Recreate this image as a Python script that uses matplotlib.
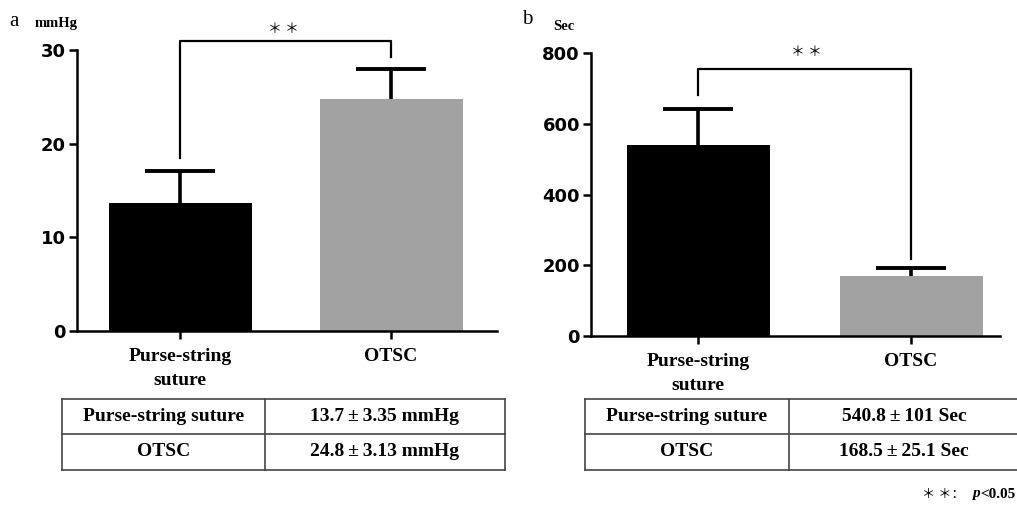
import matplotlib
matplotlib.use("Agg")
import matplotlib.pyplot as plt
from matplotlib.lines import Line2D

# ---- data ----
categories = ["Purse-string\nsuture", "OTSC"]
pressure_mean = [13.7, 24.8]
pressure_sd = [3.35, 3.13]
time_mean = [540.8, 168.5]
time_sd = [101, 25.1]
pressure_ticks = [0, 10, 20, 30]
time_ticks = [0, 200, 400, 600, 800]
table_a = [["Purse-string suture", "13.7\u2009\u00b1\u20093.35 mmHg"], ["OTSC", "24.8\u2009\u00b1\u20093.13 mmHg"]]
table_b = [["Purse-string suture", "540.8\u2009\u00b1\u2009101 Sec"], ["OTSC", "168.5\u2009\u00b1\u200925.1 Sec"]]
bar_colors = ["#000000", "#a2a2a2"]

W, H = 1017, 507
fig = plt.figure(figsize=(W / 100, H / 100), dpi=100)

def fx(px):
    return px / W

def fy(py):
    return 1 - py / H

serif = "Liberation Serif"
cjk = ["Noto Sans CJK SC", "DejaVu Sans"]

def panel(left, right, y0px, ytop_px, centers_px, ymax, means, sds, ticks,
          bracket_y, bracket_left_end, bracket_right_end, star_x_px, star_y_px):
    ax = fig.add_axes([fx(left), fy(y0px), fx(right) - fx(left), fy(ytop_px) - fy(y0px)])
    unit = centers_px[1] - centers_px[0]
    xl = -(centers_px[0] - left) / unit
    xr = 1 + (right - centers_px[1]) / unit
    xs = [0, 1]
    ax.bar(xs, means, width=143 / unit, color=bar_colors, zorder=2)
    cap_half = 35 / unit
    for x, m, s in zip(xs, means, sds):
        ax.plot([x, x], [m, m + s], color="black", lw=2.6, zorder=3, solid_capstyle="butt")
        ax.plot([x - cap_half, x + cap_half], [m + s, m + s], color="black", lw=2.8,
                zorder=3, solid_capstyle="butt", clip_on=False)
    ax.set_xlim(xl, xr)
    ax.set_ylim(0, ymax)
    ax.set_yticks(ticks)
    ax.set_yticklabels([str(t) for t in ticks], fontfamily="DejaVu Sans",
                       fontweight="bold", fontsize=13)
    ax.set_xticks(xs)
    ax.set_xticklabels(categories, fontfamily=serif, fontweight="bold", fontsize=14,
                       linespacing=1.6)
    for s in ["top", "right"]:
        ax.spines[s].set_visible(False)
    for s in ["left", "bottom"]:
        ax.spines[s].set_linewidth(1.8)
    ax.tick_params(axis="both", width=1.8, length=6, direction="out", pad=2)
    ax.tick_params(axis="x", pad=6)
    # significance bracket
    ax.plot([0, 0, 1, 1], [bracket_left_end, bracket_y, bracket_y, bracket_right_end],
            color="black", lw=1.6, clip_on=False, zorder=4)
    fig.text(fx(star_x_px), fy(star_y_px), "\uff0a \uff0a", ha="center", va="center",
             fontfamily=cjk, fontsize=10)
    return ax

panel(77, 497, 331, 50, [180, 391], 30, pressure_mean, pressure_sd, pressure_ticks,
      31.0, 18.5, 29.3, 283, 29)
panel(591, 1000, 336, 53, [698, 911], 800, time_mean, time_sd, time_ticks,
      755, 682, 218, 806, 52)

# panel letters and units
fig.text(fx(9), fy(21), "a", fontfamily=serif, fontsize=15, va="center")
fig.text(fx(35), fy(24), "mmHg", fontfamily=serif, fontweight="bold", fontsize=10.5, va="center")
fig.text(fx(522), fy(19), "b", fontfamily=serif, fontsize=15, va="center")
fig.text(fx(553), fy(27), "Sec", fontfamily=serif, fontweight="bold", fontsize=10.5, va="center")

# tables
def draw_table(x0, x1, xdiv, rows, right_border=True, val_center=None):
    ys = [399, 434, 470]
    col = "#444444"
    for y in ys:
        fig.add_artist(Line2D([fx(x0), fx(x1)], [fy(y), fy(y)], color=col, lw=1.2))
    xs_v = [x0, xdiv] + ([x1] if right_border else [])
    for x in xs_v:
        fig.add_artist(Line2D([fx(x), fx(x)], [fy(ys[0]), fy(ys[-1])], color=col, lw=1.2))
    vc = val_center if val_center is not None else (xdiv + x1) / 2
    for i, (c1, c2) in enumerate(rows):
        yc = (ys[i] + ys[i + 1]) / 2
        fig.text(fx((x0 + xdiv) / 2), fy(yc), c1, ha="center", va="center",
                 fontfamily=serif, fontweight="bold", fontsize=14)
        fig.text(fx(vc), fy(yc), c2, ha="center", va="center",
                 fontfamily=[serif, "DejaVu Sans"], fontweight="bold", fontsize=14)

draw_table(62, 505, 265, table_a)
draw_table(585, 1017, 789, table_b, right_border=False, val_center=904)

# footnote
fig.text(fx(922), fy(494), "\uff0a \uff0a\uff1a", ha="left", va="center",
         fontfamily=cjk, fontsize=9.5)
fig.text(fx(972), fy(494), "p", ha="left", va="center", fontfamily=serif,
         fontstyle="italic", fontweight="bold", fontsize=11)
fig.text(fx(980), fy(494), "<0.05", ha="left", va="center", fontfamily=serif,
         fontweight="bold", fontsize=11)

fig.savefig("out.png", dpi=100)
